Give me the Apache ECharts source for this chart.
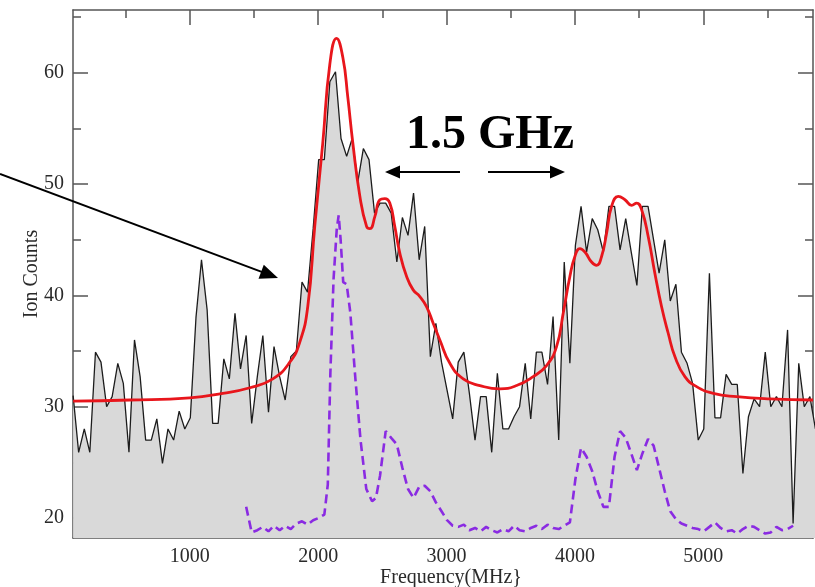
<!DOCTYPE html>
<html><head><meta charset="utf-8">
<script src="https://cdn.jsdelivr.net/npm/echarts@6/dist/echarts.min.js"></script>
<style>html,body{margin:0;padding:0;background:#fff}#c{width:815px;height:587px}</style>
</head><body><div id="c"></div>
<script>
// Measured spectrum (black, filled)
const freq = [91,134,178,221,265,308,352,395,439,482,
526,569,613,656,700,743,787,830,874,917,
961,1004,1048,1091,1135,1178,1221,1265,1308,1352,
1395,1439,1482,1526,1569,1613,1656,1700,1743,1787,
1830,1874,1917,1961,2004,2048,2091,2135,2178,2222,
2265,2309,2352,2396,2439,2482,2526,2569,2613,2656,
2700,2743,2787,2830,2874,2917,2961,3004,3048,3091,
3135,3178,3222,3265,3309,3352,3396,3439,3483,3526,
3569,3613,3656,3700,3743,3787,3830,3874,3917,3961,
4004,4048,4091,4135,4178,4222,4265,4309,4352,4396,
4439,4483,4526,4570,4613,4656,4700,4743,4787,4830,
4874,4917,4961,5004,5048,5091,5135,5178,5222,5265,
5309,5352,5396,5439,5483,5526,5570,5613,5657,5700,
5744,5787,5831,5874];
const ionCounts = [31.0,25.9,28.0,25.9,34.9,34.0,30.0,30.9,33.9,32.1,
25.9,36.0,32.7,27.0,27.0,28.9,24.9,28.0,27.0,29.6,
28.0,29.0,38.0,43.2,38.7,28.5,28.5,34.3,32.5,38.4,
33.4,36.4,28.5,32.7,36.4,29.5,35.4,32.7,30.6,34.5,
35.0,41.2,40.3,46.0,52.2,52.2,59.2,60.1,54.1,52.5,
54.1,50.2,53.2,52.2,47.4,48.3,48.3,47.4,43.0,47.0,
45.4,49.2,43.2,46.2,34.5,37.5,34.0,31.5,28.9,34.0,
34.9,31.2,27.0,30.9,30.9,25.9,33.0,28.0,28.0,29.1,
30.0,33.9,28.9,34.9,34.9,32.0,38.1,27.0,43.0,33.9,
44.5,48.0,43.9,46.9,45.9,43.9,48.0,48.0,44.1,46.9,
43.9,40.9,48.0,48.0,45.0,42.0,45.0,39.5,41.0,34.9,
33.9,32.1,27.0,28.0,42.0,29.0,29.0,32.9,32.0,32.0,
24.0,29.1,30.7,30.0,34.9,30.0,30.9,30.0,36.9,19.5,
33.9,30.0,30.9,28.0];

// Fitted curve (red)
const fitFreq = [91,532,1000,1257,1468,1647,1779,1857,1919,1974,
2036,2091,2143,2192,2231,2270,2325,2377,2403,2442,
2481,2519,2558,2597,2636,2689,2740,2792,2844,2896,
2948,3026,3130,3260,3416,3546,3675,3779,3857,3909,
3961,4000,4039,4078,4130,4169,4208,4247,4286,4338,
4390,4442,4481,4520,4571,4623,4675,4727,4779,4857,
4948,5078,5260,5519,5855];
const fitCounts = [30.5,30.6,30.8,31.2,31.7,32.5,34.0,35.8,39.0,46.3,
53.7,60.8,63.1,61.4,57.8,53.7,48.9,46.2,46.0,47.1,
48.6,48.7,48.3,46.2,43.8,41.7,40.5,39.9,39.0,37.5,
36.0,33.9,32.5,31.9,31.6,31.9,32.7,33.7,35.4,38.4,
41.7,43.5,44.2,43.9,43.0,42.7,43.5,45.6,48.0,48.9,
48.6,48.1,48.3,47.7,45.3,42.0,39.0,36.6,34.5,32.7,
31.8,31.2,30.9,30.7,30.6];

// Simulated spectrum (purple dashed)
const simFreq = [1439,1482,1526,1569,1613,1656,1700,1743,1787,1830,
1874,1917,1961,2004,2048,2075,2095,2120,2145,2160,
2175,2195,2222,2250,2290,2330,2375,2420,2450,2482,
2526,2569,2613,2656,2700,2743,2787,2830,2874,2917,
2961,3004,3048,3091,3135,3178,3222,3265,3309,3352,
3396,3439,3483,3526,3569,3613,3656,3700,3743,3787,
3830,3874,3917,3961,4004,4048,4091,4135,4178,4222,
4265,4309,4352,4396,4439,4483,4526,4570,4613,4656,
4700,4743,4787,4830,4874,4917,4961,5004,5048,5091,
5135,5178,5222,5265,5309,5352,5396,5439,5483,5526,
5570,5613,5657,5700];
const simCounts = [21.0,18.7,18.9,19.2,18.8,19.3,18.9,19.3,19.0,19.5,
19.7,19.4,19.8,20.0,20.3,23.0,33.0,41.5,46.0,47.2,
45.0,41.2,41.0,38.5,32.5,27.0,22.6,21.5,21.8,23.8,
27.8,27.2,26.6,24.5,22.6,21.8,22.8,22.9,22.4,21.4,
20.6,19.8,19.3,19.2,19.4,18.9,19.1,18.8,19.2,18.9,
18.7,19.0,18.8,19.3,18.9,18.8,19.1,19.3,19.0,19.4,
19.1,19.0,19.3,19.6,23.5,26.3,25.5,24.2,22.4,21.0,
21.0,25.5,27.8,27.2,25.8,24.3,25.8,27.1,26.5,24.5,
22.4,20.6,19.9,19.5,19.3,19.1,19.0,18.8,19.2,19.6,
19.1,18.8,18.9,18.6,19.0,19.3,19.2,18.9,18.6,18.7,
19.2,18.9,19.0,19.3];

const xMajor = [1000,2000,3000,4000,5000];
const xMinor = [500,1500,2500,3500,4500,5500];
const yMajor = [20,30,40,50,60];
const yMinor = [25,35,45,55,65];
const xLabel = 'Frequency(MHz}';
const yLabel = 'Ion Counts';
const note = '1.5 GHz';

const X_MIN = 90, X_MAX = 5855, Y_MIN = 18.2, Y_MAX = 65.65;
const FONT = '"Liberation Serif","Times New Roman",serif';
const frame = {color:'#555', width:1.5};

function pairs(a, b){ return a.map((v,i)=>[v, b[i]]); }

function axis(kind, pos, ticks, len, withLine, withLabels, extra){
  const o = {
    type:'value', position:pos,
    min: kind==='x'?X_MIN:Y_MIN, max: kind==='x'?X_MAX:Y_MAX,
    axisLine:{show:withLine, onZero:false, lineStyle:frame},
    axisTick:{show:true, inside:true, length:len, customValues:ticks, lineStyle:frame},
    axisLabel:{show:withLabels, customValues:ticks, color:'#2a2a2a', fontFamily:FONT, fontSize:20, margin:9,
      formatter:function(v){ return String(v); }},
    splitLine:{show:false}
  };
  return Object.assign(o, extra||{});
}

const chart = echarts.init(document.getElementById('c'), null, {renderer:'canvas'});

function arrow(x1,y1,x2,y2,hl,hw,lw){
  const dx=x2-x1, dy=y2-y1, L=Math.hypot(dx,dy), ux=dx/L, uy=dy/L;
  const bx=x2-ux*hl, by=y2-uy*hl;
  return [
    {type:'line', shape:{x1:x1,y1:y1,x2:bx+ux*2,y2:by+uy*2}, style:{stroke:'#000', lineWidth:lw}, z:100},
    {type:'polygon', shape:{points:[[x2,y2],[bx-uy*hw,by+ux*hw],[bx+uy*hw,by-ux*hw]]}, style:{fill:'#000'}, z:100}
  ];
}

chart.setOption({
  animation:false,
  backgroundColor:'#fff',
  grid:{left:73, right:2, top:10, bottom:49, containLabel:false, outerBoundsMode:'none'},
  xAxis:[
    axis('x','bottom',xMajor,15,true,true,{name:xLabel, nameLocation:'middle', nameGap:30, nameMoveOverlap:false,
      nameTextStyle:{fontFamily:FONT, fontSize:20, color:'#2a2a2a', padding:[0,0,0,16]}}),
    axis('x','bottom',xMinor,8,false,false),
    axis('x','top',xMajor,15,true,false),
    axis('x','top',xMinor,8,false,false)
  ],
  yAxis:[
    axis('y','left',yMajor,15,true,true,{name:yLabel, nameLocation:'middle', nameGap:31, nameRotate:90, nameMoveOverlap:false,
      nameTextStyle:{fontFamily:FONT, fontSize:20, color:'#2a2a2a'}}),
    axis('y','left',yMinor,8,false,false),
    axis('y','right',yMajor,15,true,false),
    axis('y','right',yMinor,8,false,false)
  ],
  series:[
    {type:'line', name:'measured', data:pairs(freq, ionCounts), xAxisIndex:0, yAxisIndex:0,
     showSymbol:false, lineStyle:{color:'#1c1c1c', width:1.3},
     areaStyle:{color:'#d9d9d9', opacity:1, origin:'start'}, z:2},
    {type:'line', name:'fit', data:pairs(fitFreq, fitCounts), xAxisIndex:0, yAxisIndex:0,
     showSymbol:false, smooth:0.5, lineStyle:{color:'#e8161c', width:2.8}, z:4},
    {type:'line', name:'sim', data:pairs(simFreq, simCounts), xAxisIndex:0, yAxisIndex:0,
     showSymbol:false, lineStyle:{color:'#8a2be2', width:2.6, type:[9,5]}, z:3}
  ],
  graphic:[
    {type:'text', x:490, y:136, z:100, style:{text:note, font:'bold 48px '+FONT, fill:'#000', align:'center', verticalAlign:'middle'}}
  ].concat(arrow(460,172,385,172,15,6.5,2))
   .concat(arrow(488,172,565,172,15,6.5,2))
   .concat(arrow(0,174,278,278,18,7.5,2))
});
</script></body></html>
